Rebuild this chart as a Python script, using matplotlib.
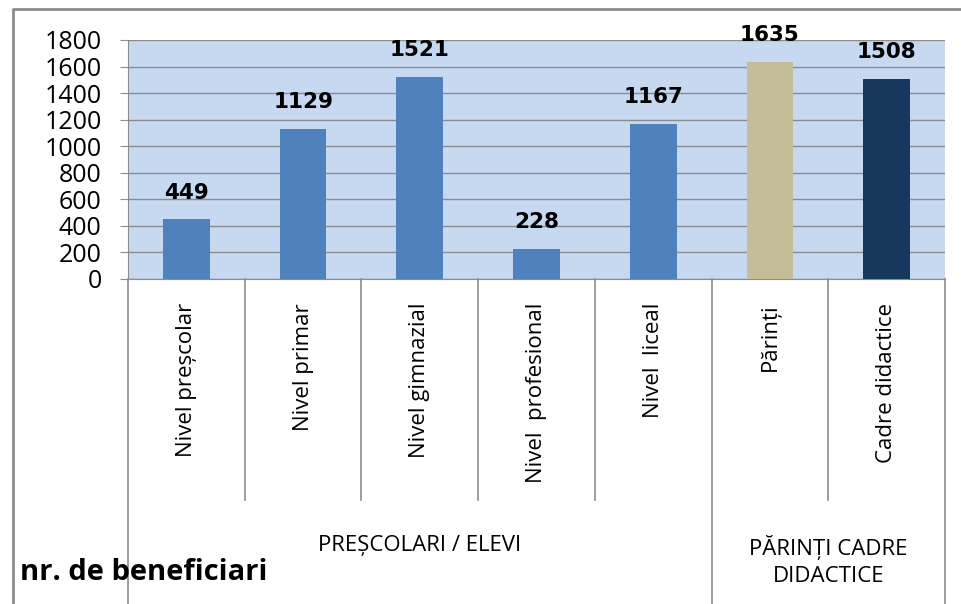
import matplotlib.pyplot as plt
from matplotlib.lines import Line2D

#================DATA================#

categories = ["Nivel preșcolar", "Nivel primar", "Nivel gimnazial",
              "Nivel  profesional", "Nivel  liceal", "Părinți", "Cadre didactice"]
values = [449, 1129, 1521, 228, 1167, 1635, 1508]
bar_colors = ["#4F81BD", "#4F81BD", "#4F81BD", "#4F81BD", "#4F81BD",
              "#C4BD97", "#17375E"]
groups = ["PREȘCOLARI / ELEVI", "PĂRINȚI CADRE\nDIDACTICE"]
group_spans = [(0, 4), (5, 6)]
yticks = [0, 200, 400, 600, 800, 1000, 1200, 1400, 1600, 1800]

#================PLOT================#

plt.rcParams['font.family'] = ['Open Sans', 'DejaVu Sans']
grey = "#8C8C8C"

fig = plt.figure(figsize=(9.61, 6.04), dpi=100)
ax = fig.add_axes([128/961, 1 - 279/604, 817/961, 239/604])
ax.set_facecolor("#C6D9F1")

x = list(range(len(categories)))
bars = ax.bar(x, values, width=0.4, color=bar_colors, zorder=3)

ax.set_xlim(-0.5, len(categories) - 0.5)
ax.set_ylim(0, 1800)
ax.set_yticks(yticks)
ax.set_yticklabels([str(t) for t in yticks], fontsize=18)
ax.tick_params(axis="y", length=6, color=grey, pad=13)
ax.set_xticks([])
ax.yaxis.grid(True, color=grey, linewidth=1.0, zorder=1)
ax.set_axisbelow(True)

for s in ["top", "right"]:
    ax.spines[s].set_visible(False)
ax.spines["left"].set_color(grey)
ax.spines["bottom"].set_color(grey)

# value labels
for xi, v in zip(x, values):
    ax.annotate(str(v), (xi, v), xytext=(0, 12), textcoords="offset points",
                ha="center", va="bottom", fontsize=15.5, fontweight="bold",
                family=["DejaVu Sans"])

# category labels
trans = ax.get_xaxis_transform()
for xi, c in zip(x, categories):
    ax.text(xi, -0.10, c, rotation=90, ha="center", va="top", fontsize=16,
            transform=trans)

# divider lines under the axis
for b in range(1, len(categories)):
    bottom = -0.925
    if b == 5:
        bottom = -1.36
    ax.plot([b - 0.5, b - 0.5], [0, bottom], color=grey, lw=1.2,
            transform=trans, clip_on=False)
for b in [-0.5, len(categories) - 0.5]:
    ax.plot([b, b], [0, -1.36], color=grey, lw=1.2,
            transform=trans, clip_on=False)

# group labels
group_y = [-1.113, -1.18]
for g, (a, b), gy in zip(groups, group_spans, group_y):
    ax.text((a + b) / 2, gy, g, ha="center", va="center", fontsize=16,
            linespacing=1.35, transform=trans)

fig.text(20/961, 1 - 572/604, "nr. de beneficiari", fontsize=21,
         fontweight="bold", ha="left", va="center")

# outer frame
fig.add_artist(Line2D([13/961, 13/961, 1.0], [0.0, 1 - 9/604, 1 - 9/604],
                      color=grey, lw=2, transform=fig.transFigure))

fig.savefig("out.png", dpi=100)
